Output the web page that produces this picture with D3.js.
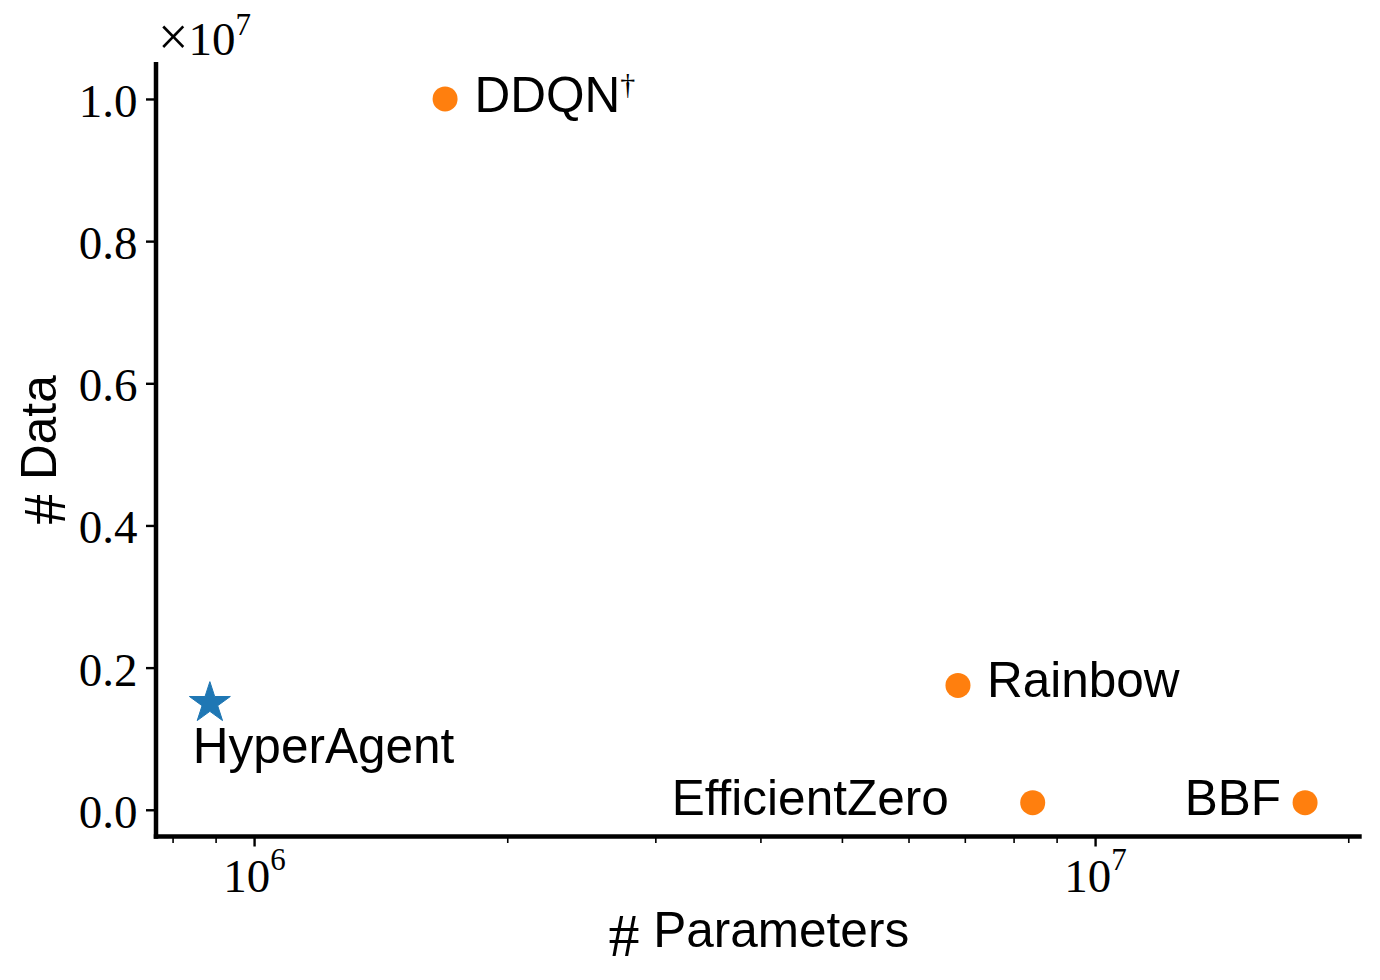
<!DOCTYPE html>
<html>
<head>
<meta charset="utf-8">
<script src="https://cdn.jsdelivr.net/npm/d3@7"></script>
<style>
  html, body { margin: 0; padding: 0; background: #ffffff; }
  svg { display: block; }
</style>
</head>
<body>
<svg id="chart" width="1380" height="980"></svg>
<script>
// ---- data ----
const methods = ["HyperAgent", "DDQN", "Rainbow", "EfficientZero", "BBF"];
const methodSup = ["", "\u2020", "", "", ""];
const numParameters = [8.86e5, 1.687e6, 6.87e6, 8.43e6, 1.777e7];
const numData = [1.5e6, 1.0e7, 1.75e6, 1.0e5, 1.0e5];
const isOurs = [true, false, false, false, false];
const xMajorTicks = [1e6, 1e7];
const xMinorTicks = [8e5, 9e5, 2e6, 3e6, 4e6, 5e6, 6e6, 7e6, 8e6, 9e6, 2e7];
const yTicks = [0, 2e6, 4e6, 6e6, 8e6, 1e7];
const yTickLabels = ["0.0", "0.2", "0.4", "0.6", "0.8", "1.0"];
const yOffsetLabel = { base: "\u00d710", exp: "7" };
const xLabel = "Parameters";
const yLabel = "Data";

// ---- layout / style (not data) ----
const W = 1380, H = 980;
const plot = { left: 156, right: 1361.7, top: 62, bottom: 836.5 };
const xLimits = [7.645e5, 2.075e7];
const yLimits = [-0.0376e7, 1.052e7];
const labelLayout = {
  "HyperAgent":    { dx: -17, dy: 60, anchor: "start" },
  "DDQN":          { dx: 29.5, dy: 13, anchor: "start" },
  "Rainbow":       { dx: 29, dy: 12, anchor: "start" },
  "EfficientZero": { dx: -84, dy: 12, anchor: "end" },
  "BBF":           { dx: -24, dy: 12, anchor: "end" }
};
const ORANGE = "#ff7f0e", BLUE = "#1f77b4";
const SERIF = "'Liberation Serif', 'DejaVu Serif', serif";
const SANS = "'Liberation Sans', Arial, 'Noto Sans', sans-serif";
const FS = 47;      // serif tick labels
const FS_SANS = 49.5; // sans labels

const svg = d3.select("#chart");
svg.append("rect").attr("width", W).attr("height", H).attr("fill", "#fff");

const x = d3.scaleLog().domain(xLimits).range([plot.left, plot.right]);
const y = d3.scaleLinear().domain(yLimits).range([plot.bottom, plot.top]);

// ---- axes ----
const xMinorAxis = d3.axisBottom(x).tickValues(xMinorTicks).tickSize(6.5).tickSizeOuter(0).tickFormat("");
const gxMinor = svg.append("g").attr("transform", `translate(0,${plot.bottom})`).call(xMinorAxis);
gxMinor.select(".domain").remove();
gxMinor.selectAll(".tick line").attr("stroke", "#000").attr("stroke-width", 1.6);

const xAxis = d3.axisBottom(x).tickValues(xMajorTicks).tickSize(10).tickSizeOuter(0);
const gx = svg.append("g").attr("transform", `translate(0,${plot.bottom})`).call(xAxis);
gx.select(".domain").remove();
gx.selectAll(".tick line").attr("stroke", "#000").attr("stroke-width", 2.4);
gx.selectAll(".tick text").each(function(d) {
  const t = d3.select(this);
  t.text(null).attr("y", 55.2).attr("dy", null)
    .attr("font-family", SERIF).attr("font-size", FS).attr("fill", "#000")
    .attr("text-anchor", "middle");
  t.append("tspan").text("10");
  t.append("tspan").attr("dy", -22).attr("font-size", 31).text(String(Math.round(Math.log10(d))));
});

const yAxis = d3.axisLeft(y).tickValues(yTicks).tickSize(10).tickPadding(8.5).tickSizeOuter(0)
  .tickFormat((d, i) => yTickLabels[i]);
const gy = svg.append("g").attr("transform", `translate(${plot.left},0)`).call(yAxis);
gy.select(".domain").remove();
gy.selectAll(".tick line").attr("stroke", "#000").attr("stroke-width", 2.4);
gy.selectAll(".tick text").attr("font-family", SERIF).attr("font-size", FS).attr("fill", "#000")
  .attr("dy", "0.37em");

// spines
svg.append("line").attr("x1", plot.left).attr("x2", plot.left)
  .attr("y1", plot.top + 2.25).attr("y2", plot.bottom)
  .attr("stroke", "#000").attr("stroke-width", 4.5).attr("stroke-linecap", "square");
svg.append("line").attr("x1", plot.left).attr("x2", plot.right - 2.25)
  .attr("y1", plot.bottom).attr("y2", plot.bottom)
  .attr("stroke", "#000").attr("stroke-width", 4.5).attr("stroke-linecap", "square");

// offset label ×10^7
const off = svg.append("text").attr("x", 158).attr("y", 55)
  .attr("font-family", SERIF).attr("font-size", FS).attr("fill", "#000");
off.append("tspan").attr("font-size", 54).text(yOffsetLabel.base.charAt(0));
off.append("tspan").text(yOffsetLabel.base.slice(1));
off.append("tspan").attr("dy", -20).attr("font-size", 31).text(yOffsetLabel.exp);

// axis labels
const xl = svg.append("text").attr("x", (plot.left + plot.right) / 2).attr("y", 946.7)
  .attr("text-anchor", "middle").attr("font-size", FS_SANS).attr("fill", "#000");
xl.append("tspan").attr("font-family", SERIF)
  .attr("font-size", 62).attr("dy", 9).text("#");
xl.append("tspan").attr("font-family", SANS).attr("dy", -9).text("\u00a0" + xLabel);

const yl = svg.append("text").attr("transform", "translate(56,450) rotate(-90)")
  .attr("text-anchor", "middle").attr("font-size", FS_SANS).attr("fill", "#000");
yl.append("tspan").attr("font-family", SERIF)
  .attr("font-size", 62).attr("dy", 9).text("#");
yl.append("tspan").attr("font-family", SANS).attr("dy", -9).text("\u00a0" + yLabel);

// ---- points ----
const rows = methods.map((m, i) => ({ name: m, sup: methodSup[i], px: numParameters[i], dy: numData[i], ours: isOurs[i] }));

svg.append("g").selectAll("circle")
  .data(rows.filter(r => !r.ours))
  .join("circle")
  .attr("cx", d => x(d.px)).attr("cy", d => y(d.dy))
  .attr("r", 12.5).attr("fill", ORANGE);

svg.append("g").selectAll("path")
  .data(rows.filter(r => r.ours))
  .join("path")
  .attr("transform", d => `translate(${x(d.px)},${y(d.dy)})`)
  .attr("d", d3.symbol(d3.symbolStar, 520))
  .attr("fill", BLUE).attr("stroke", BLUE).attr("stroke-width", 1).attr("stroke-linejoin", "round");

// ---- labels ----
const labels = svg.append("g").selectAll("text")
  .data(rows)
  .join("text")
  .attr("x", d => x(d.px) + labelLayout[d.name].dx)
  .attr("y", d => y(d.dy) + labelLayout[d.name].dy)
  .attr("text-anchor", d => labelLayout[d.name].anchor)
  .attr("font-family", SANS).attr("font-size", FS_SANS).attr("fill", "#000");
labels.append("tspan").text(d => d.name);
labels.filter(d => d.sup).append("tspan")
  .attr("dy", -18).attr("font-family", SERIF).attr("font-size", 30).text(d => d.sup);
</script>
</body>
</html>
